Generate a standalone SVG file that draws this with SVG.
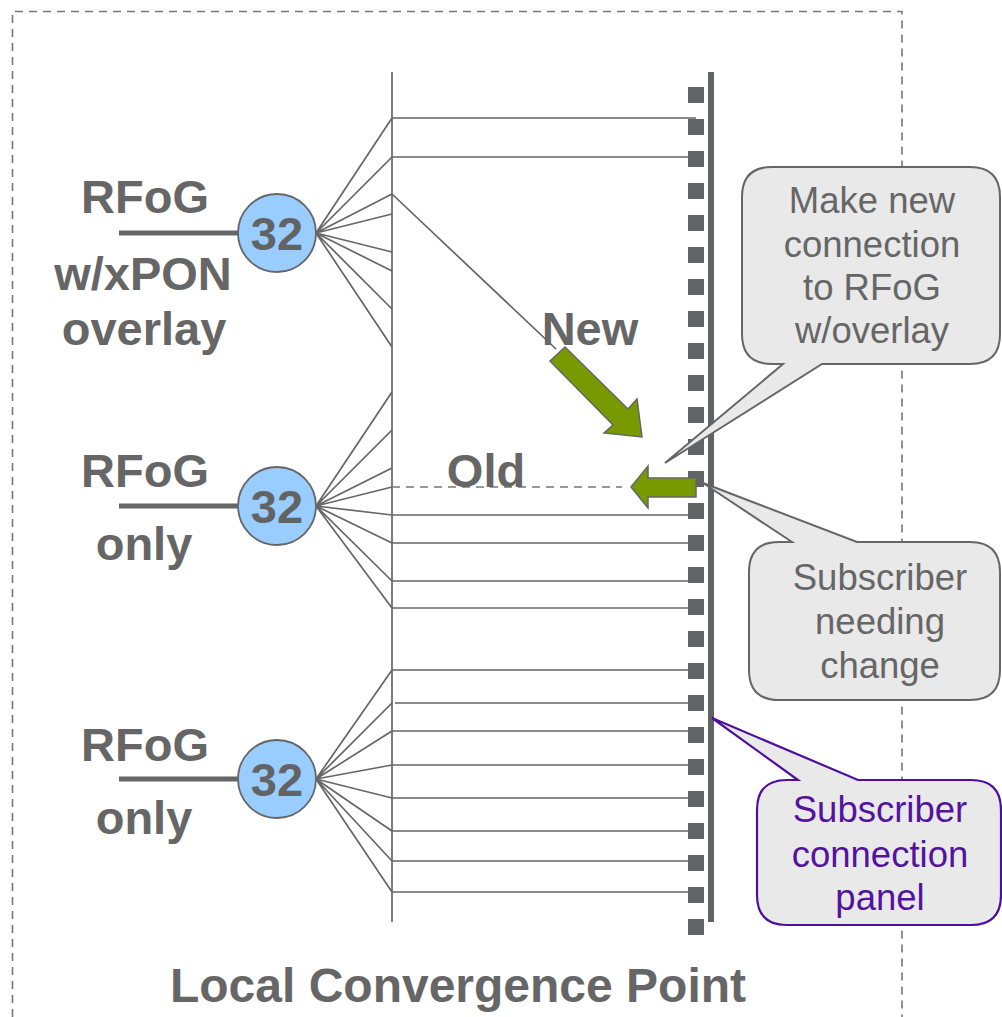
<svg xmlns="http://www.w3.org/2000/svg" width="1002" height="1017" viewBox="0 0 1002 1017">
<style>
.ln{stroke:#666;stroke-width:1.7;fill:none}
.dash{stroke:#777;stroke-width:1.6;fill:none;stroke-dasharray:8 6}
.feed{stroke:#666;stroke-width:5;fill:none}
.sq{fill:#626365}
.spl{fill:#99ccff;stroke:#666;stroke-width:1.8}
.num{font-family:"Liberation Sans",Arial,sans-serif;font-weight:bold;font-size:47px;fill:#626365;text-anchor:middle}
.lbl{font-family:"Liberation Sans",Arial,sans-serif;font-weight:bold;font-size:47px;fill:#666;text-anchor:middle}
.co{fill:#e9e9e9;stroke:#666;stroke-width:2}
.cop{fill:#e9e9e9;stroke:#4e0e9e;stroke-width:2.2}
.ct{font-family:"Liberation Sans",Arial,sans-serif;font-size:36.5px;fill:#666;text-anchor:middle}
.ctp{font-family:"Liberation Sans",Arial,sans-serif;font-size:36.5px;fill:#53139f;text-anchor:middle}
.arr{fill:#789a00;stroke:#666;stroke-width:1.5}
</style>
<g id="border">
<path class="dash" d="M12.5 1017 V11.5 H902 V1017"/>
</g>
<g id="connectors">
<line class="ln" x1="392" y1="72" x2="392" y2="922"/>
<g id="fan1">
<path class="ln" d="M316 233 L392 118 M316 233 L392 157 M316 233 L392 194 M316 233 L392 214 M316 233 L392 252 M316 233 L392 271 M316 233 L392 309 M316 233 L392 347"/>
<path class="ln" d="M392 118 H696 M392 157 H688 M392 194 L556 349"/>
</g>
<g id="fan2">
<path class="ln" d="M316 506 L392 392 M316 506 L392 430 M316 506 L392 468 M316 506 L392 487 M316 506 L392 515 M316 506 L392 543 M316 506 L392 581 M316 506 L392 608"/>
<path class="ln" d="M392 515 H688 M392 543 H688 M392 581 H688 M392 608 H688"/>
<path class="dash" d="M392 487 H622"/>
</g>
<g id="fan3">
<path class="ln" d="M316 779 L392 670 M316 779 L392 703 M316 779 L392 731 M316 779 L392 765 M316 779 L392 798 M316 779 L392 831 M316 779 L392 861 M316 779 L392 892"/>
<path class="ln" d="M392 670 H688 M395 703 H688 M392 731 H688 M392 765 H688 M392 798 H688 M392 831 H688 M392 861 H688 M392 892 H688"/>
</g>
<path class="feed" d="M119 233 H240 M119 506 H240 M119 779 H240"/>
</g>
<g id="panel">
<g class="sq">
<rect x="688" y="87" width="16" height="16"/><rect x="688" y="119" width="16" height="16"/><rect x="688" y="151" width="16" height="16"/><rect x="688" y="183" width="16" height="16"/><rect x="688" y="215" width="16" height="16"/><rect x="688" y="247" width="16" height="16"/><rect x="688" y="279" width="16" height="16"/><rect x="688" y="311" width="16" height="16"/><rect x="688" y="343" width="16" height="16"/><rect x="688" y="375" width="16" height="16"/><rect x="688" y="407" width="16" height="16"/><rect x="688" y="439" width="16" height="16"/><rect x="688" y="471" width="16" height="16"/><rect x="688" y="503" width="16" height="16"/><rect x="688" y="535" width="16" height="16"/><rect x="688" y="567" width="16" height="16"/><rect x="688" y="599" width="16" height="16"/><rect x="688" y="631" width="16" height="16"/><rect x="688" y="663" width="16" height="16"/><rect x="688" y="695" width="16" height="16"/><rect x="688" y="727" width="16" height="16"/><rect x="688" y="759" width="16" height="16"/><rect x="688" y="791" width="16" height="16"/><rect x="688" y="823" width="16" height="16"/><rect x="688" y="855" width="16" height="16"/><rect x="688" y="887" width="16" height="16"/><rect x="688" y="919" width="16" height="16"/>
</g>
<rect x="708" y="72" width="6" height="850" fill="#626365"/>
</g>
<g id="splitter1">
<circle class="spl" cx="277" cy="233" r="39"/>
<text class="num" x="277" y="250">32</text>
</g>
<g id="splitter2">
<circle class="spl" cx="277" cy="506" r="39"/>
<text class="num" x="277" y="523">32</text>
</g>
<g id="splitter3">
<circle class="spl" cx="277" cy="779" r="39"/>
<text class="num" x="277" y="796">32</text>
</g>
<g id="label1">
<text class="lbl" x="145" y="213">RFoG</text>
<text class="lbl" x="143" y="290">w/xPON</text>
<text class="lbl" x="144" y="345">overlay</text>
</g>
<g id="label2">
<text class="lbl" x="145" y="487">RFoG</text>
<text class="lbl" x="144" y="560">only</text>
</g>
<g id="label3">
<text class="lbl" x="145" y="761">RFoG</text>
<text class="lbl" x="144" y="834">only</text>
</g>
<g id="new-label"><text class="lbl" x="590" y="345">New</text></g>
<g id="old-label"><text class="lbl" x="486" y="487">Old</text></g>
<g id="new-arrow">
<polygon class="arr" points="565,347 628,409 637,399 642,437 604,433 613,425 550,361"/>
</g>
<g id="old-arrow">
<polygon class="arr" points="696,478 648,478 648,466 631,487 648,508 648,497 696,497"/>
</g>
<g id="callout-new">
<path class="co" d="M772 167 H970 Q1000 167 1000 197 V334 Q1000 364 970 364 H822 L665 463 L783 364 H772 Q742 364 742 334 V197 Q742 167 772 167 Z"/>
<text class="ct" x="872" y="213">Make new</text>
<text class="ct" x="872" y="257">connection</text>
<text class="ct" x="872" y="300">to RFoG</text>
<text class="ct" x="872" y="343">w/overlay</text>
</g>
<g id="callout-change">
<path class="co" d="M779 542 H792 L703 483 L857 542 H970 Q1000 542 1000 572 V670 Q1000 700 970 700 H779 Q749 700 749 670 V572 Q749 542 779 542 Z"/>
<text class="ct" x="880" y="590">Subscriber</text>
<text class="ct" x="880" y="634">needing</text>
<text class="ct" x="880" y="678">change</text>
</g>
<g id="callout-panel">
<path class="cop" d="M787 780 H798 L712 718 L858 780 H971 Q1001 780 1001 810 V895 Q1001 925 971 925 H787 Q757 925 757 895 V810 Q757 780 787 780 Z"/>
<text class="ctp" x="880" y="822">Subscriber</text>
<text class="ctp" x="880" y="867">connection</text>
<text class="ctp" x="880" y="910">panel</text>
</g>
<g id="title">
<text class="lbl" x="458" y="1002" style="font-size:48px">Local Convergence Point</text>
</g>
</svg>
